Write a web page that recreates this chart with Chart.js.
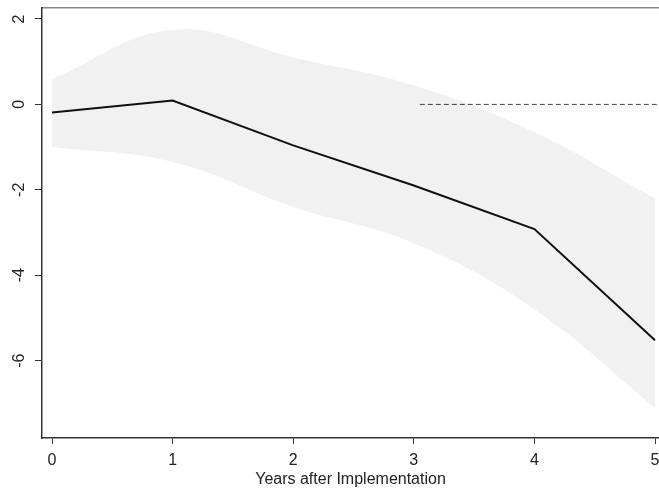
<!DOCTYPE html>
<html>
<head>
<meta charset="utf-8">
<script src="https://cdn.jsdelivr.net/npm/chart.js@4.4.1/dist/chart.umd.min.js"></script>
<style>
  html, body { margin: 0; padding: 0; background: #fff; }
  #wrap { width: 659px; height: 491px; }
</style>
</head>
<body>
<div id="wrap"><canvas id="chart"></canvas></div>
<script>
// data
let years = [0, 1, 2, 3, 4, 5];
let effect = [-0.19, 0.09, -0.96, -1.9, -2.92, -5.52];
let upperCI = [0.6, 1.75, 1.1, 0.45, -0.65, -2.2];
let lowerCI = [-1.0, -1.35, -2.4, -3.25, -4.8, -7.1];
let refYears = [3.05, 5.03];
let refValues = [0, 0];
let yTicks = [-6, -4, -2, 0, 2];
let xTicks = [0, 1, 2, 3, 4, 5];

function toPoints(xs, ys) {
    let pts = [];
    for (let i = 0; i < xs.length; i++) {
        pts.push({ x: xs[i], y: ys[i] });
    }
    return pts;
}

const ctx = document.getElementById('chart').getContext('2d');
Chart.defaults.font.family = '"Liberation Sans", Arial, sans-serif';
Chart.defaults.color = '#222';

const data = {
    datasets: [
        {
            label: 'upper',
            data: toPoints(years, upperCI),
            borderWidth: 0,
            pointRadius: 0,
            tension: 0.4,
            fill: false
        },
        {
            label: 'lower',
            data: toPoints(years, lowerCI),
            borderWidth: 0,
            pointRadius: 0,
            tension: 0.4,
            fill: '-1',
            backgroundColor: 'rgba(0,0,0,0.055)'
        },
        {
            label: 'zero',
            data: toPoints(refYears, refValues),
            borderColor: '#444',
            borderWidth: 1,
            borderDash: [5, 3],
            pointRadius: 0,
            fill: false
        },
        {
            label: 'effect',
            data: toPoints(years, effect),
            borderColor: '#111',
            borderWidth: 2,
            pointRadius: 0,
            fill: false
        }
    ]
};

const config = {
    type: 'line',
    data: data,
    options: {
        responsive: true,
        maintainAspectRatio: false,
        animation: false,
        layout: { padding: 0 },
        plugins: {
            legend: { display: false },
            tooltip: { enabled: false }
        },
        scales: {
            x: {
                type: 'linear',
                min: -0.083,
                max: 5.033,
                afterBuildTicks: (scale) => { scale.ticks = xTicks.map(v => ({ value: v })); },
                afterFit: (scale) => {
                    scale.height = 53;
                    scale.paddingLeft = 0;
                    scale.paddingRight = 0;
                },
                grid: { drawOnChartArea: false, drawTicks: true, tickLength: 6, color: '#333' },
                border: { color: '#333', width: 1.5 },
                ticks: { font: { size: 16 }, padding: 7, maxRotation: 0 },
                title: {
                    display: true,
                    text: 'Years after Implementation',
                    font: { size: 16 },
                    padding: { top: 0, bottom: 2 }
                }
            },
            xTop: {
                type: 'linear',
                position: 'top',
                min: -0.083,
                max: 5.033,
                afterFit: (scale) => { scale.height = 8; },
                grid: { display: false },
                border: { color: '#888', width: 1.5 },
                ticks: { display: false }
            },
            y: {
                min: -7.81,
                max: 2.257,
                afterBuildTicks: (scale) => { scale.ticks = yTicks.map(v => ({ value: v })); },
                afterFit: (scale) => {
                    scale.width = 42;
                    scale.paddingTop = 0;
                    scale.paddingBottom = 0;
                },
                grid: { drawOnChartArea: false, drawTicks: true, tickLength: 7, color: '#333' },
                border: { color: '#333', width: 1.5 },
                ticks: { font: { size: 16 }, minRotation: 90, maxRotation: 90, crossAlign: 'center', padding: 8 }
            }
        }
    }
};

new Chart(ctx, config);
</script>
</body>
</html>
